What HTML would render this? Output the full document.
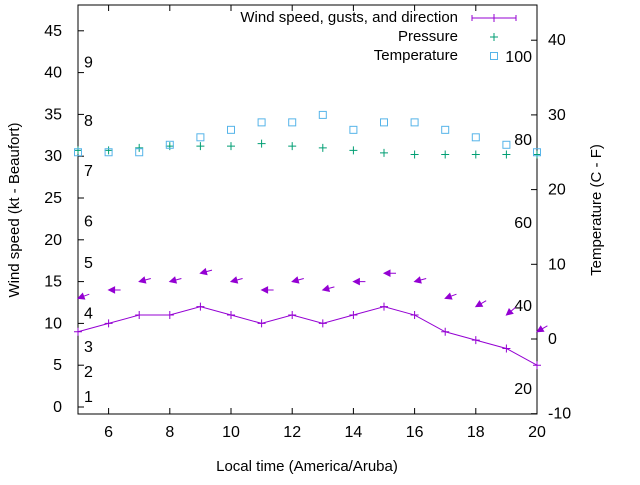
<!DOCTYPE html>
<html><head><meta charset="utf-8"><style>
body{margin:0;background:#fff}
svg{font-family:"Liberation Sans",sans-serif;font-size:16px}
</style></head><body>
<svg id="c" width="640" height="480"></svg>
<script>
const hours=[5,6,7,8,9,10,11,12,13,14,15,16,17,18,19,20];
const windSpeed=[9,10,11,11,12,11,10,11,10,11,12,11,9,8,7,5];
const gusts=[13,14,15,15,16,15,14,15,14,15,16,15,13,12,11,9];
const windDir=[70,90,75,75,75,75,90,75,75,90,90,75,70,60,50,60];
const pressure=[30.7,30.7,31,31.2,31.2,31.2,31.5,31.2,31,30.7,30.4,30.2,30.2,30.2,30.2,30.2];
const temperature=[25,25,25,26,27,28,29,29,30,28,29,29,28,27,26,25];
const xTicks=[6,8,10,12,14,16,18,20];
const yTicks=[0,5,10,15,20,25,30,35,40,45];
const y2Ticks=[-10,0,10,20,30,40];
const beaufort=[[1,1.2],[2,4.2],[3,7.2],[4,11.2],[5,17.2],[6,22.2],[7,28.2],[8,34.2],[9,41.2]];
const fahr=[20,40,60,80,100];
const L=78,R=537,T=5,B=414;
const sx=v=>L+(v-5)*(R-L)/15;
const sy=v=>407-v*8.36;
const sy2=v=>339-v*7.47;
const s=document.getElementById('c');const NS='http://www.w3.org/2000/svg';
function mk(t,a,txt){const e=document.createElementNS(NS,t);for(const k in a)e.setAttribute(k,a[k]);if(txt!==undefined)e.textContent=txt;s.appendChild(e);return e;}
let e=mk('rect',{x:L,y:T,width:R-L,height:B-T,fill:'none',stroke:'#000'});

xTicks.forEach(v=>{const x=sx(v);mk('line',{x1:x,x2:x,y1:B,y2:B-6,stroke:'#000'});mk('line',{x1:x,x2:x,y1:T,y2:T+6,stroke:'#000'});
 const t=mk('text',{x:x,y:437,'text-anchor':'middle'},v);});
yTicks.forEach(v=>{const y=sy(v);mk('line',{x1:L,x2:L+6,y1:y,y2:y,stroke:'#000'});
 const t=mk('text',{x:62,y:y+5,'text-anchor':'end'},v);});
y2Ticks.forEach(v=>{const y=sy2(v);mk('line',{x1:R,x2:R-6,y1:y,y2:y,stroke:'#000'});
 const t=mk('text',{x:548,y:y+5},v);});
beaufort.forEach(b=>{const t=mk('text',{x:84,y:sy(b[1])+5},b[0]);});
fahr.forEach(f=>{const t=mk('text',{x:532,y:sy2((f-32)*5/9)+5,'text-anchor':'end'},f);});
// wind line
e=mk('polyline',{points:hours.map((h,i)=>sx(h)+','+sy(windSpeed[i])).join(' '),fill:'none',stroke:'#9400d3'});

hours.forEach((h,i)=>{const x=sx(h),y=sy(windSpeed[i]);mk('path',{d:`M${x-4},${y}h8M${x},${y-4}v8`,stroke:'#9400d3'});});
// gust arrows
hours.forEach((h,i)=>{const x=sx(h),y=sy(gusts[i]);const a=windDir[i]*Math.PI/180;
 const dx=Math.sin(a),dy=-Math.cos(a);const len=12;
 const tx=x+dx*len,ty=y+dy*len;
 const px=-dy,py=dx;
 const g=mk('path',{d:`M${x},${y}L${tx},${ty}M${x},${y}L${x+dx*6+px*3},${y+dy*6+py*3}L${x+dx*6-px*3},${y+dy*6-py*3}Z`,stroke:'#9400d3',fill:'#9400d3'});
 });
// pressure
hours.forEach((h,i)=>{const x=sx(h),y=sy(pressure[i]);const p=mk('path',{d:`M${x-4},${y}h8M${x},${y-4}v8`,stroke:'#009e73'});
 });
// temperature
hours.forEach((h,i)=>{const x=sx(h),y=sy2(temperature[i]);const p=mk('rect',{x:x-3.5,y:y-3.5,width:7,height:7,fill:'none',stroke:'#56b4e9'});
 });
// legend
const lg=[['Wind speed, gusts, and direction',22],['Pressure',41],['Temperature',60]];
lg.forEach(l=>{const t=mk('text',{x:458,y:l[1],'text-anchor':'end','font-size':'15'},l[0]);});
mk('path',{d:'M472,18h44M472,15v6M516,15v6M494,14v8',stroke:'#9400d3'});
mk('path',{d:'M490,37h8M494,33v8',stroke:'#009e73'});
mk('rect',{x:490.5,y:52.5,width:7,height:7,fill:'none',stroke:'#56b4e9'});
e=mk('text',{x:307,y:471,'text-anchor':'middle','font-size':'15'},'Local time (America/Aruba)');
e=mk('text',{x:0,y:0,'text-anchor':'middle','font-size':'15',transform:'translate(19,210) rotate(-90)'},'Wind speed (kt - Beaufort)');
e=mk('text',{x:0,y:0,'text-anchor':'middle','font-size':'15',transform:'translate(601,210) rotate(-90)'},'Temperature (C - F)');
</script>
</body></html>
